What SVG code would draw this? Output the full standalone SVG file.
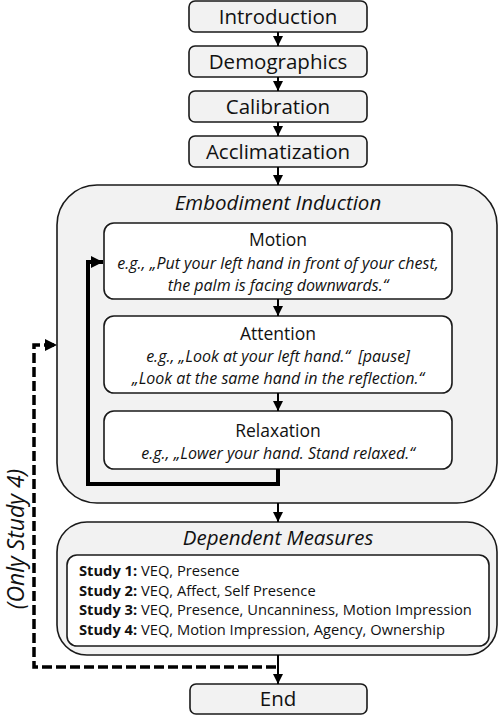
<svg xmlns="http://www.w3.org/2000/svg" width="499" height="720" viewBox="0 0 499 720">
<defs>
<style>
.box{fill:#f2f2f2;stroke:#1a1a1a;stroke-width:1.6}
.inner{fill:#ffffff;stroke:#1a1a1a;stroke-width:1.6}
.t{font-family:"Open Sans","Noto Sans",sans-serif;fill:#111;text-anchor:middle}
.big{font-size:20.5px}
.title{font-size:20.5px;font-style:italic}
.side{font-size:23px;font-style:italic}
.sub{font-size:17.5px}
.ex{font-size:16px;font-style:italic}
.st{font-family:"Open Sans","Noto Sans",sans-serif;fill:#111;font-size:14.7px}
.st tspan.b{font-weight:bold}
.con{fill:none;stroke:#000;stroke-width:2}
.thick{fill:none;stroke:#000;stroke-width:4}
.dash{fill:none;stroke:#000;stroke-width:3.5;stroke-dasharray:10 4}
</style>
<marker id="ah" viewBox="0 0 10 10" refX="10" refY="5" markerUnits="userSpaceOnUse" markerWidth="10" markerHeight="10" orient="auto">
<path d="M0,0 L10,5 L0,10 z" fill="#000"/>
</marker>
<marker id="ahb" viewBox="0 0 10 10" refX="10" refY="5" markerUnits="userSpaceOnUse" markerWidth="12" markerHeight="12" orient="auto">
<path d="M0,0 L10,5 L0,10 z" fill="#000"/>
</marker>
</defs>

<g id="introduction">
<rect class="box" x="189" y="1" width="178" height="31" rx="6"/>
<text class="t big" x="278" y="24">Introduction</text>
</g>
<g id="demographics">
<rect class="box" x="189" y="46" width="178" height="31" rx="6"/>
<text class="t big" x="278" y="69">Demographics</text>
</g>
<g id="calibration">
<rect class="box" x="189" y="91" width="178" height="31" rx="6"/>
<text class="t big" x="278" y="114">Calibration</text>
</g>
<g id="acclimatization">
<rect class="box" x="189" y="136" width="178" height="31" rx="6"/>
<text class="t big" x="278" y="159">Acclimatization</text>
</g>

<g id="embodiment-induction">
<rect class="box" x="57" y="185" width="440" height="318" rx="40"/>
<text class="t title" x="278" y="210">Embodiment Induction</text>
</g>
<g id="motion">
<rect class="inner" x="104" y="223" width="348" height="76" rx="10"/>
<text class="t sub" x="278" y="246">Motion</text>
<text class="t ex" x="278" y="268.5">e.g., „Put your left hand in front of your chest,</text>
<text class="t ex" x="278" y="290.5">the palm is facing downwards.“</text>
</g>
<g id="attention">
<rect class="inner" x="104" y="316" width="348" height="77" rx="10"/>
<text class="t sub" x="278" y="340">Attention</text>
<text class="t ex" x="278" y="362">e.g., „Look at your left hand.“<tspan dx="8">[pause]</tspan></text>
<text class="t ex" x="278" y="384">„Look at the same hand in the reflection.“</text>
</g>
<g id="relaxation">
<rect class="inner" x="104" y="411" width="348" height="58" rx="10"/>
<text class="t sub" x="278" y="437">Relaxation</text>
<text class="t ex" x="278" y="459">e.g., „Lower your hand. Stand relaxed.“</text>
</g>

<g id="dependent-measures">
<rect class="box" x="57" y="522" width="440" height="133" rx="30"/>
<text class="t title" x="278" y="545">Dependent Measures</text>
<rect class="inner" x="67" y="555" width="422" height="91" rx="10"/>
<text class="st" x="79" y="576"><tspan class="b">Study 1:</tspan> VEQ, Presence</text>
<text class="st" x="79" y="596"><tspan class="b">Study 2:</tspan> VEQ, Affect, Self Presence</text>
<text class="st" x="79" y="615"><tspan class="b">Study 3:</tspan> VEQ, Presence, Uncanniness, Motion Impression</text>
<text class="st" x="79" y="635"><tspan class="b">Study 4:</tspan> VEQ, Motion Impression, Agency, Ownership</text>
</g>

<g id="end">
<rect class="box" x="190" y="684" width="177" height="30" rx="6"/>
<text class="t big" x="278" y="706">End</text>
</g>

<g id="only-study-4-label">
<text class="t side" transform="translate(24,539) rotate(-90)" x="0" y="0">(Only Study 4)</text>
</g>

<g id="connectors">
<line class="con" x1="278" y1="32" x2="278" y2="46" marker-end="url(#ah)"/>
<line class="con" x1="278" y1="77" x2="278" y2="91" marker-end="url(#ah)"/>
<line class="con" x1="278" y1="122" x2="278" y2="136" marker-end="url(#ah)"/>
<line class="con" x1="278" y1="167" x2="278" y2="185" marker-end="url(#ah)"/>
<line class="con" x1="278" y1="299" x2="278" y2="316" marker-end="url(#ah)"/>
<line class="con" x1="278" y1="393" x2="278" y2="411" marker-end="url(#ah)"/>
<line class="con" x1="278" y1="503" x2="278" y2="522" marker-end="url(#ah)"/>
<line class="con" x1="278" y1="655" x2="278" y2="684" marker-end="url(#ah)"/>
<path class="thick" d="M278,469 L278,484 L88,484 L88,262 L103,262" marker-end="url(#ahb)"/>
<path class="dash" d="M276,667 L34,667 L34,345 L57,345" marker-end="url(#ahb)"/>
</g>
</svg>
